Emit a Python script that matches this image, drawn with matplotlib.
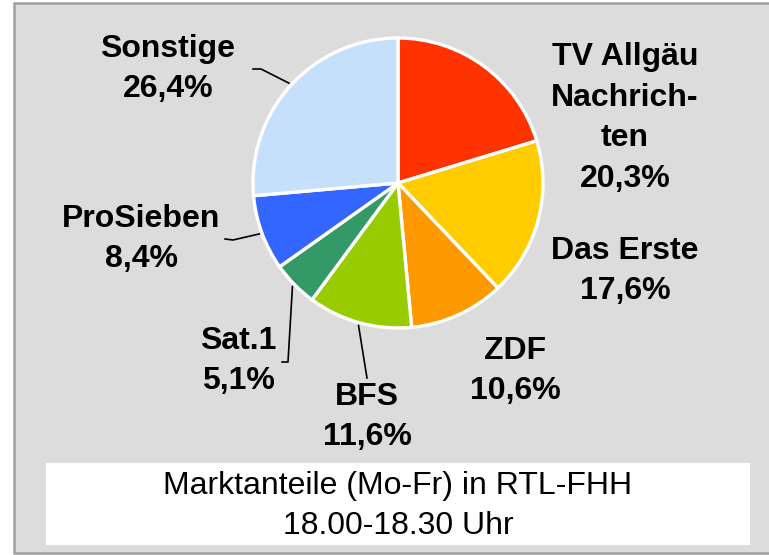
import numpy as np
import matplotlib
matplotlib.use("Agg")
import matplotlib.pyplot as plt
from matplotlib.patches import Rectangle

# data
sender = ["TV Allgäu\nNachrich-\nten", "Das Erste", "ZDF", "BFS", "Sat.1", "ProSieben", "Sonstige"]
anteil = [20.3, 17.6, 10.6, 11.6, 5.1, 8.4, 26.4]
farben = ["#ff3300", "#ffcc00", "#ff9900", "#99cc00", "#339966", "#3366ff", "#c6e0fc"]
titel = "Marktanteile (Mo-Fr) in RTL-FHH\n18.00-18.30 Uhr"

# label centres and leader elbows in pixel coords of the 769x555 image
label_pos = [(625, 118), (625, 271), (515, 371), (367, 417), (238, 361), (141, 239), (168, 69)]
elbows = [None, None, None, [(367, 378)], [(288, 362), (282, 362)],
          [(233, 240), (225, 239)], [(261, 69), (253, 69)]]

W, H = 769, 555
cx, cy, R = 398, 183, 145


def px(x, y):
    return (x - cx) / R, (cy - y) / R


fig = plt.figure(figsize=(W / 100, H / 100), dpi=100)
ax = fig.add_axes([0, 0, 1, 1])

# grey panel
x0, y0 = px(14, 553)
x1, y1 = px(800, 3)
ax.add_patch(Rectangle((x0, y0), x1 - x0, y1 - y0, facecolor="#dcdcdc",
                       edgecolor="#a0a0a0", lw=1.8, zorder=0))
# white box for title
bx0, by0 = px(46, 545)
bx1, by1 = px(750, 463)
ax.add_patch(Rectangle((bx0, by0), bx1 - bx0, by1 - by0, facecolor="white",
                       edgecolor="none", zorder=1))
tx, ty = px(398, 506)
ax.text(tx, ty, titel, ha="center", va="center", fontsize=23,
        family="Liberation Sans", linespacing=1.46, zorder=2)

wedges, _ = ax.pie(anteil, colors=farben, startangle=90, counterclock=False,
                   radius=1, center=(0, 0), frame=True,
                   wedgeprops=dict(edgecolor="white", linewidth=2.4))
ax.set_xlim(-cx / R, (W - cx) / R)
ax.set_ylim(-(H - cy) / R, cy / R)
ax.set_aspect("auto")
ax.axis("off")

for w, name, val, pos, elb in zip(wedges, sender, anteil, label_pos, elbows):
    txt = name + "\n" + f"{val:.1f}".replace(".", ",") + "%"
    lx, ly = px(*pos)
    ax.text(lx, ly, txt, ha="center", va="center", fontsize=23, fontweight="bold",
            family="Liberation Sans", linespacing=1.46, zorder=3)
    if elb:
        mid = np.deg2rad((w.theta1 + w.theta2) / 2)
        xs = [1.02 * np.cos(mid)] + [px(*p)[0] for p in elb]
        ys = [1.02 * np.sin(mid)] + [px(*p)[1] for p in elb]
        ax.plot(xs, ys, color="black", lw=1.2, zorder=3)

fig.savefig("out.png", dpi=100, facecolor="white")
